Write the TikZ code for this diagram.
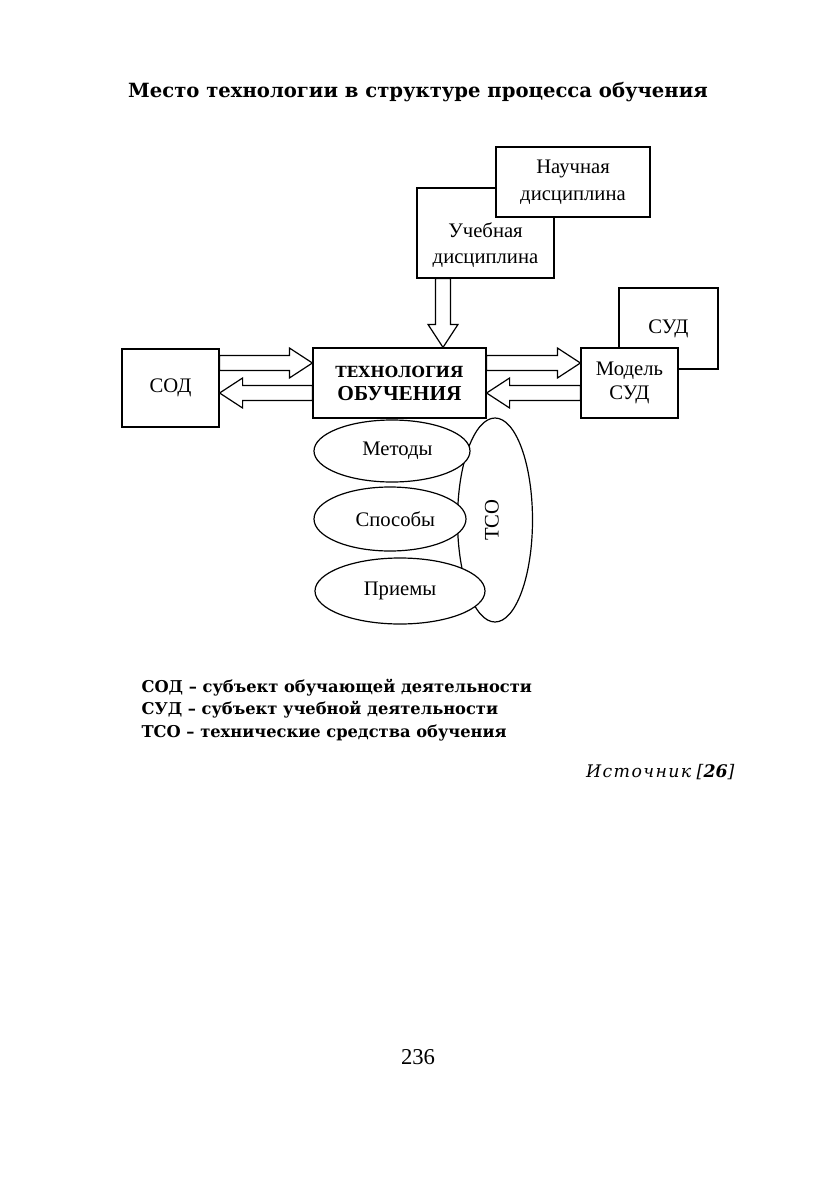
\documentclass[tikz,border=0pt]{standalone}
\usepackage{fontspec}
\setmainfont{Liberation Serif}
\newfontfamily\schfont{DejaVu Serif}
\usetikzlibrary{shapes.geometric, positioning, calc}

\newcommand{\fatarrow}[2]{%
  \coordinate (fa-base) at ($(#2)!17.25pt!(#1)$);
  \path [fat] ($(#1)!5.6pt!90:(#2)$) -- ($(fa-base)!5.6pt!90:(#2)$) -- ($(fa-base)!11.25pt!90:(#2)$) -- (#2)
    -- ($(fa-base)!11.25pt!-90:(#2)$) -- ($(fa-base)!5.6pt!-90:(#2)$) -- ($(#1)!5.6pt!-90:(#2)$) -- cycle;}

\begin{document}
\begin{tikzpicture}[x=0.75pt, y=-0.75pt, line width=0.9pt,
        box/.style={rectangle, draw, fill=white, inner sep=0pt, align=center, font=\fontsize{15.5}{20}\selectfont},
        oval/.style={ellipse, draw, fill=white, inner sep=0pt, font=\fontsize{15.5}{20}\selectfont},
        txt/.style={align=center, font=\fontsize{15.5}{20}\selectfont},
        fat/.style={draw, fill=white, line join=miter}]
    \path [use as bounding box] (0,0) rectangle (839,1191);

    \node [font=\schfont\bfseries\fontsize{14.7}{18}\selectfont] (title) at (418,92) {Место технологии в структуре процесса обучения};

    \node [box, minimum width=102.75pt, minimum height=67.5pt] (ucheb) at (485.5,233) {};
    \node [txt] (uchebtext) at (485.5,245) {Учебная\\дисциплина};
    \node [box, minimum width=115.5pt, minimum height=52.5pt] (nauch) at (573,182) {Научная\\дисциплина};

    \node [box, minimum width=74.25pt, minimum height=60.75pt] (sud) at (668.5,328.5) {СУД};
    \node [box, minimum width=72.75pt, minimum height=52.5pt, font=\fontsize{15.5}{18.5}\selectfont] (model) at (629.5,383) {Модель\\СУД};
    \node [box, minimum width=72.75pt, minimum height=58.5pt] (sod) at (170.5,388) {СОД};
    \node [box, minimum width=129.75pt, minimum height=52.5pt, font=\bfseries\fontsize{16}{17.25}\selectfont] (tech) at (399.5,383)
        {{\schfont\fontsize{11.5}{17.25}\selectfont ТЕХНОЛОГИЯ}\\ОБУЧЕНИЯ};

    \coordinate (rowa) at (0,363);
    \coordinate (rowb) at (0,393);
    \coordinate (colx) at (443,0);
    \fatarrow{sod.east |- rowa}{tech.west |- rowa}
    \fatarrow{tech.west |- rowb}{sod.east |- rowb}
    \fatarrow{tech.east |- rowa}{model.west |- rowa}
    \fatarrow{model.west |- rowb}{tech.east |- rowb}
    \fatarrow{colx |- ucheb.south}{colx |- tech.north}

    \node [oval, minimum width=56.25pt, minimum height=153pt] (tso) at (495,520) {};
    \node [oval, minimum width=117pt, minimum height=46.5pt] (metody) at (392,451) {\hspace{8pt}Методы};
    \node [oval, minimum width=114pt, minimum height=48pt] (sposoby) at (390,519) {\hspace{8pt}Способы};
    \node [oval, minimum width=127.5pt, minimum height=49.5pt] (priemy) at (400,591) {Приемы};
    \node [txt, rotate=90] (tsotext) at (492,520) {ТСО};

    \node [anchor=west, align=left, inner sep=0pt, font=\schfont\bfseries\fontsize{12.2}{16.9}\selectfont] (legend) at (141,710)
        {СОД – субъект обучающей деятельности\\СУД – субъект учебной деятельности\\ТСО – технические средства обучения};
    \node [anchor=east, inner sep=0pt, font=\schfont\itshape\fontsize{13}{16}\selectfont] (source) at (735,772)
        {{\addfontfeature{LetterSpace=8}Источник} [\textbf{26}]};
    \node [font=\fontsize{17}{20}\selectfont] (page) at (418,1057) {236};
\end{tikzpicture}
\end{document}
